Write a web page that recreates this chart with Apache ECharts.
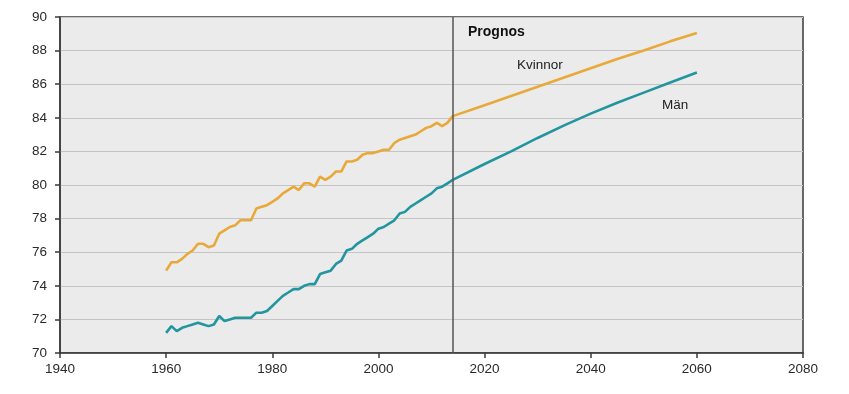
<!DOCTYPE html>
<html>
<head>
<meta charset="utf-8">
<script src="https://cdn.jsdelivr.net/npm/echarts@6/dist/echarts.min.js"></script>
<style>
html,body{margin:0;padding:0;background:#fff;}
#chart{width:849px;height:394px;}
</style>
</head>
<body>
<div id="chart"></div>
<script>
// Observed years 1960-2014
const histYears = [1960,1961,1962,1963,1964,1965,1966,1967,1968,1969,
  1970,1971,1972,1973,1974,1975,1976,1977,1978,1979,
  1980,1981,1982,1983,1984,1985,1986,1987,1988,1989,
  1990,1991,1992,1993,1994,1995,1996,1997,1998,1999,
  2000,2001,2002,2003,2004,2005,2006,2007,2008,2009,
  2010,2011,2012,2013,2014];
const kvinnorHist = [74.9,75.4,75.4,75.6,75.9,76.1,76.5,76.5,76.3,76.4,
  77.1,77.3,77.5,77.6,77.9,77.9,77.9,78.6,78.7,78.8,
  79.0,79.2,79.5,79.7,79.9,79.7,80.1,80.1,79.9,80.5,
  80.3,80.5,80.8,80.8,81.4,81.4,81.5,81.8,81.9,81.9,
  82.0,82.1,82.1,82.5,82.7,82.8,82.9,83.0,83.2,83.4,
  83.5,83.7,83.5,83.7,84.1];
const manHist = [71.2,71.6,71.3,71.5,71.6,71.7,71.8,71.7,71.6,71.7,
  72.2,71.9,72.0,72.1,72.1,72.1,72.1,72.4,72.4,72.5,
  72.8,73.1,73.4,73.6,73.8,73.8,74.0,74.1,74.1,74.7,
  74.8,74.9,75.3,75.5,76.1,76.2,76.5,76.7,76.9,77.1,
  77.4,77.5,77.7,77.9,78.3,78.4,78.7,78.9,79.1,79.3,
  79.5,79.8,79.9,80.1,80.3];
// Projection (Prognos)
const projYears = [2020,2025,2030,2035,2040,2045,2050,2055,2060];
const kvinnorProj = [84.75,85.3,85.85,86.4,86.95,87.5,88.0,88.55,89.05];
const manProj = [81.25,82.0,82.8,83.55,84.25,84.9,85.5,86.1,86.7];
const prognosYear = 2014;
const xTicks = [1940,1960,1980,2000,2020,2040,2060,2080];
const yTicks = [70,72,74,76,78,80,82,84,86,88,90];

const allYears = histYears.concat(projYears);
const kvinnor = kvinnorHist.concat(kvinnorProj);
const man = manHist.concat(manProj);

const chart = echarts.init(document.getElementById('chart'), null, {renderer:'canvas'});
const font = 'Liberation Sans, Arial, sans-serif';
chart.setOption({
  animation:false,
  backgroundColor:'#ffffff',
  grid:{left:60,right:46,top:17,bottom:41,show:true,backgroundColor:'#ebebeb',borderColor:'#3a3a3a',borderWidth:1.5},
  xAxis:{type:'value',min:xTicks[0],max:xTicks[xTicks.length-1],interval:20,
    axisLine:{show:true,lineStyle:{color:'#3a3a3a',width:1.5}},
    axisTick:{show:true,length:5,lineStyle:{color:'#3a3a3a',width:1.5}},
    axisLabel:{color:'#2a2a2a',fontSize:13.5,fontFamily:font,margin:9,formatter:v=>String(v)},
    splitLine:{show:false}},
  yAxis:{type:'value',min:yTicks[0],max:yTicks[yTicks.length-1],interval:2,
    axisLine:{show:true,lineStyle:{color:'#3a3a3a',width:1.5}},
    axisTick:{show:true,length:5,lineStyle:{color:'#3a3a3a',width:1.5}},
    axisLabel:{color:'#2a2a2a',fontSize:13.5,fontFamily:font,margin:13},
    splitLine:{show:true,lineStyle:{color:'#c4c4c4',width:1.2}}},
  series:[
    {name:'Kvinnor',type:'line',data:allYears.map((y,i)=>[y,kvinnor[i]]),
      showSymbol:false,smooth:false,lineStyle:{color:'#E8A93A',width:2.6},z:3,
      markLine:{silent:true,symbol:'none',label:{show:false},
        lineStyle:{color:'#555555',width:1.5,type:'solid'},data:[{xAxis:prognosYear}]}},
    {name:'Män',type:'line',data:allYears.map((y,i)=>[y,man[i]]),
      showSymbol:false,smooth:false,lineStyle:{color:'#22959F',width:2.6},z:3}
  ],
  graphic:[
    {type:'text',x:468,y:32,style:{text:'Prognos',font:'bold 14px '+font,fill:'#111',verticalAlign:'middle'}},
    {type:'text',x:517,y:65.5,style:{text:'Kvinnor',font:'13.5px '+font,fill:'#222',verticalAlign:'middle'}},
    {type:'text',x:662,y:105,style:{text:'Män',font:'13.5px '+font,fill:'#222',verticalAlign:'middle'}}
  ]
});
</script>
</body>
</html>
